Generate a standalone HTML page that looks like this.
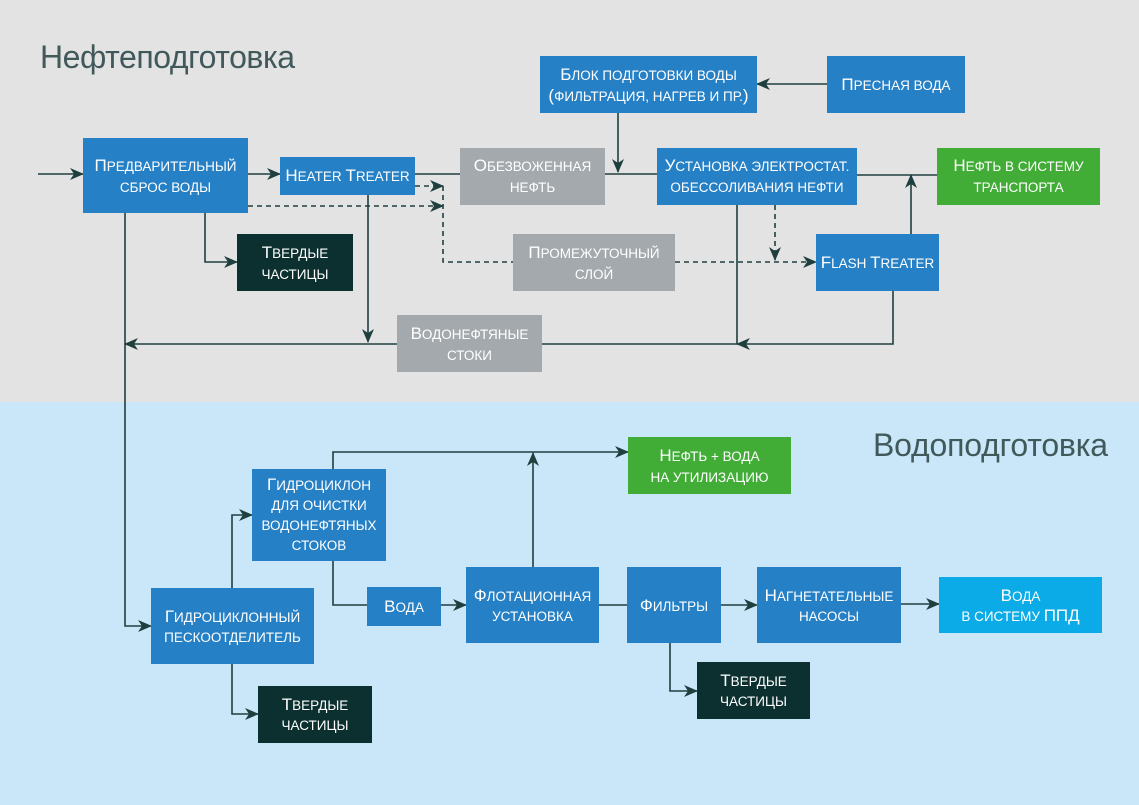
<!DOCTYPE html>
<html><head><meta charset="utf-8"><style>
html,body{margin:0;padding:0;width:1139px;height:805px;overflow:hidden}
svg{display:block}
.t{font-family:"Liberation Sans","Noto Sans CJK SC",sans-serif;font-size:13.5px;fill:#fff;text-anchor:middle}
.t tspan.C{font-size:17px}
.h{font-family:"Liberation Sans","Noto Sans CJK SC",sans-serif;font-size:32px;fill:#41595a}
.l{stroke:#1f3f3f;stroke-width:1.6;fill:none}
.d{stroke:#1f3f3f;stroke-width:1.6;fill:none;stroke-dasharray:5,4}
.b{fill:#2680c6}.g{fill:#a4a9ae}.k{fill:#0c3030}.n{fill:#41ad37}.c{fill:#0aabe6}
</style></head><body>
<svg width="1139" height="805" xmlns="http://www.w3.org/2000/svg">
<defs><marker id="a" markerWidth="14" markerHeight="12" refX="13" refY="6" orient="auto" markerUnits="userSpaceOnUse"><path d="M0,0 L14,6 L0,12 L4,6 Z" fill="#1f3f3f"/></marker></defs>
<rect x="0" y="0" width="1139" height="402" fill="#e3e3e3"/>
<rect x="0" y="402" width="1139" height="403" fill="#cae7f9"/>
<text class="h" x="40" y="68" textLength="255">Нефтеподготовка</text>
<text class="h" x="873" y="456" textLength="235">Водоподготовка</text>

<path class="l" d="M38,174 H83" marker-end="url(#a)"/>
<path class="l" d="M248,174 H280" marker-end="url(#a)"/>
<path class="l" d="M415,174 H460"/>
<path class="l" d="M605,174 H657"/>
<path class="l" d="M618,113 V172" marker-end="url(#a)"/>
<path class="l" d="M827,84 H757" marker-end="url(#a)"/>
<path class="l" d="M857,175 H937"/>
<path class="l" d="M911,234 V175" marker-end="url(#a)"/>
<path class="d" d="M415,186 H443" marker-end="url(#a)"/>
<path class="d" d="M248,206 H443" marker-end="url(#a)"/>
<path class="d" d="M443,186 V262 H513"/>
<path class="d" d="M675,262 H816" marker-end="url(#a)"/>
<path class="d" d="M775,205 V260" marker-end="url(#a)"/>
<path class="l" d="M205,213 V262 H237" marker-end="url(#a)"/>
<path class="l" d="M368,195 V342" marker-end="url(#a)"/>
<path class="l" d="M397,344 H125" marker-end="url(#a)"/>
<path class="l" d="M542,344 H737 V205"/>
<path class="l" d="M893,291 V344 H737" marker-end="url(#a)"/>
<path class="l" d="M125,213 V626 H151" marker-end="url(#a)"/>
<path class="l" d="M232,588 V515 H252" marker-end="url(#a)"/>
<path class="l" d="M232,664 V714 H258" marker-end="url(#a)"/>
<path class="l" d="M333,469 V452 H628" marker-end="url(#a)"/>
<path class="l" d="M533,567 V453" marker-end="url(#a)"/>
<path class="l" d="M333,561 V605 H367"/>
<path class="l" d="M441,605 H466" marker-end="url(#a)"/>
<path class="l" d="M599,605 H627"/>
<path class="l" d="M721,605 H757" marker-end="url(#a)"/>
<path class="l" d="M901,604 H939" marker-end="url(#a)"/>
<path class="l" d="M670,643 V691 H697" marker-end="url(#a)"/>

<rect class="b" x="83" y="138" width="165" height="75"/>
<text class="t" x="165.5" y="171"><tspan class="C">П</tspan>РЕДВАРИТЕЛЬНЫЙ</text><text class="t" x="165.5" y="192">СБРОС ВОДЫ</text>
<rect class="b" x="280" y="157" width="135" height="38"/>
<text class="t" x="347.5" y="181"><tspan class="C">H</tspan>EATER <tspan class="C">T</tspan>REATER</text>
<rect class="g" x="460" y="148" width="145" height="57"/>
<text class="t" x="532.5" y="171"><tspan class="C">О</tspan>БЕЗВОЖЕННАЯ</text><text class="t" x="532.5" y="192">НЕФТЬ</text>
<rect class="b" x="540" y="56" width="217" height="57"/>
<text class="t" x="648.5" y="80"><tspan class="C">Б</tspan>ЛОК ПОДГОТОВКИ ВОДЫ</text><text class="t" x="648.5" y="101"><tspan class="C">(</tspan>ФИЛЬТРАЦИЯ, НАГРЕВ И ПР.<tspan class="C">)</tspan></text>
<rect class="b" x="827" y="56" width="138" height="57"/>
<text class="t" x="896" y="90"><tspan class="C">П</tspan>РЕСНАЯ ВОДА</text>
<rect class="b" x="657" y="148" width="200" height="57"/>
<text class="t" x="757" y="171"><tspan class="C">У</tspan>СТАНОВКА ЭЛЕКТРОСТАТ.</text><text class="t" x="757" y="192">ОБЕССОЛИВАНИЯ НЕФТИ</text>
<rect class="n" x="937" y="148" width="163" height="57"/>
<text class="t" x="1018.5" y="171"><tspan class="C">Н</tspan>ЕФТЬ В СИСТЕМУ</text><text class="t" x="1018.5" y="192">ТРАНСПОРТА</text>
<rect class="k" x="237" y="234" width="116" height="57"/>
<text class="t" x="295" y="258"><tspan class="C">Т</tspan>ВЕРДЫЕ</text><text class="t" x="295" y="279">ЧАСТИЦЫ</text>
<rect class="g" x="513" y="234" width="162" height="57"/>
<text class="t" x="594" y="258"><tspan class="C">П</tspan>РОМЕЖУТОЧНЫЙ</text><text class="t" x="594" y="279">СЛОЙ</text>
<rect class="b" x="816" y="234" width="123" height="57"/>
<text class="t" x="877.5" y="268"><tspan class="C">F</tspan>LASH <tspan class="C">T</tspan>REATER</text>
<rect class="g" x="397" y="315" width="145" height="57"/>
<text class="t" x="469.5" y="339"><tspan class="C">В</tspan>ОДОНЕФТЯНЫЕ</text><text class="t" x="469.5" y="360">СТОКИ</text>

<rect class="b" x="252" y="469" width="134" height="92"/>
<text class="t" x="319" y="490"><tspan class="C">Г</tspan>ИДРОЦИКЛОН</text><text class="t" x="319" y="510">ДЛЯ ОЧИСТКИ</text><text class="t" x="319" y="530">ВОДОНЕФТЯНЫХ</text><text class="t" x="319" y="550">СТОКОВ</text>
<rect class="n" x="628" y="437" width="163" height="57"/>
<text class="t" x="709.5" y="461"><tspan class="C">Н</tspan>ЕФТЬ + ВОДА</text><text class="t" x="709.5" y="482">НА УТИЛИЗАЦИЮ</text>
<rect class="b" x="151" y="588" width="163" height="76"/>
<text class="t" x="232.5" y="622"><tspan class="C">Г</tspan>ИДРОЦИКЛОННЫЙ</text><text class="t" x="232.5" y="642">ПЕСКООТДЕЛИТЕЛЬ</text>
<rect class="b" x="367" y="587" width="74" height="39"/>
<text class="t" x="404" y="612"><tspan class="C">В</tspan>ОДА</text>
<rect class="b" x="466" y="567" width="133" height="76"/>
<text class="t" x="532.5" y="601"><tspan class="C">Ф</tspan>ЛОТАЦИОННАЯ</text><text class="t" x="532.5" y="621">УСТАНОВКА</text>
<rect class="b" x="627" y="567" width="94" height="76"/>
<text class="t" x="674" y="611"><tspan class="C">Ф</tspan>ИЛЬТРЫ</text>
<rect class="b" x="757" y="567" width="144" height="76"/>
<text class="t" x="829" y="601"><tspan class="C">Н</tspan>АГНЕТАТЕЛЬНЫЕ</text><text class="t" x="829" y="621">НАСОСЫ</text>
<rect class="c" x="939" y="577" width="163" height="56"/>
<text class="t" x="1020.5" y="601"><tspan class="C">В</tspan>ОДА</text><text class="t" x="1020.5" y="621">В СИСТЕМУ <tspan class="C">ППД</tspan></text>
<rect class="k" x="258" y="686" width="114" height="57"/>
<text class="t" x="315" y="710"><tspan class="C">Т</tspan>ВЕРДЫЕ</text><text class="t" x="315" y="730">ЧАСТИЦЫ</text>
<rect class="k" x="697" y="662" width="113" height="57"/>
<text class="t" x="753.5" y="686"><tspan class="C">Т</tspan>ВЕРДЫЕ</text><text class="t" x="753.5" y="706">ЧАСТИЦЫ</text>
</svg>
</body></html>
